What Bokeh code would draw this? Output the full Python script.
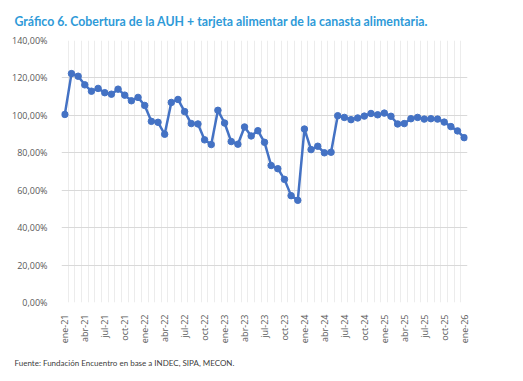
from bokeh.plotting import figure
from bokeh.models import FixedTicker, Range1d, Title, ColumnDataSource
from bokeh.embed import file_html
from bokeh.resources import INLINE
import math

title_text = "Gráfico 6. Cobertura de la AUH + tarjeta alimentar de la canasta alimentaria."
source_text = "Fuente: Fundación Encuentro en base a INDEC, SIPA, MECON."

meses = ["ene", "feb", "mar", "abr", "may", "jun", "jul", "ago", "sep", "oct", "nov", "dic"]
periods = [f"{m}-{y}" for y in range(21, 26) for m in meses] + ["ene-26"]

cobertura = [
    100.5, 122.3, 120.9, 116.3, 112.9, 114.4, 112.1, 111.3, 114.0, 110.8, 107.8, 109.6,
    105.3, 96.8, 96.3, 89.9, 106.9, 108.5, 102.0, 95.6, 95.4, 86.9, 84.4, 102.7,
    95.9, 86.0, 84.6, 93.8, 89.0, 91.8, 85.6, 73.2, 71.5, 65.8, 57.1, 54.6,
    92.7, 81.7, 83.5, 80.0, 80.3, 99.8, 98.9, 97.7, 98.6, 99.6, 101.0, 100.3,
    101.2, 99.5, 95.4, 95.6, 98.2, 98.9, 98.0, 98.2, 98.0, 96.4, 94.0, 91.7,
    88.1,
]

y_ticks = [0, 20, 40, 60, 80, 100, 120, 140]
y_labels = [f"{v},00%" for v in y_ticks]

idx = list(range(len(periods)))
src = ColumnDataSource(dict(x=idx, y=cobertura, period=periods))

p = figure(width=523, height=381, output_backend="svg", toolbar_location=None,
           x_range=Range1d(-0.5, len(periods) - 0.5), y_range=Range1d(0, 140),
           min_border_left=61, min_border_right=56, min_border_top=39, min_border_bottom=79)
p.outline_line_color = None
p.background_fill_color = "white"
p.border_fill_color = "white"

p.title = Title(text=title_text, align="left", offset=-47, standoff=23,
                text_font="Lato", text_font_style="bold", text_font_size="12.3px",
                text_color="#2e9ad8")

# axes
p.xaxis.ticker = FixedTicker(ticks=idx[::3])
p.xaxis.major_label_overrides = {i: periods[i] for i in idx[::3]}
p.xaxis.major_label_orientation = math.pi / 2
p.yaxis.ticker = FixedTicker(ticks=y_ticks)
p.yaxis.major_label_overrides = {v: l for v, l in zip(y_ticks, y_labels)}
for ax in (p.xaxis, p.yaxis):
    ax.axis_line_color = None
    ax.major_tick_line_color = None
    ax.minor_tick_line_color = None
    ax.major_label_text_font = "Open Sans"
    ax.major_label_text_font_size = "9px"
    ax.major_label_text_color = "#595959"
p.xaxis.major_label_standoff = 6
p.yaxis.major_label_standoff = 8

p.add_layout(Title(text=source_text, align="left", offset=-47, standoff=18,
                   text_font="Lato", text_font_style="normal", text_font_size="8px",
                   text_color="#404040"), "below")

# grids
p.ygrid.ticker = FixedTicker(ticks=y_ticks)
p.ygrid.grid_line_color = "#d9d9d9"
p.ygrid.grid_line_width = 1
p.xgrid.ticker = FixedTicker(ticks=[i - 0.5 for i in range(len(periods) + 1)])
p.xgrid.grid_line_color = "#ececec"
p.xgrid.grid_line_width = 1

p.line("x", "y", source=src, line_color="#4472C4", line_width=2.5)
p.scatter("x", "y", source=src, size=6.5, fill_color="#4472C4", line_color="#4472C4")

open("out.html", "w").write(file_html(p, INLINE))
